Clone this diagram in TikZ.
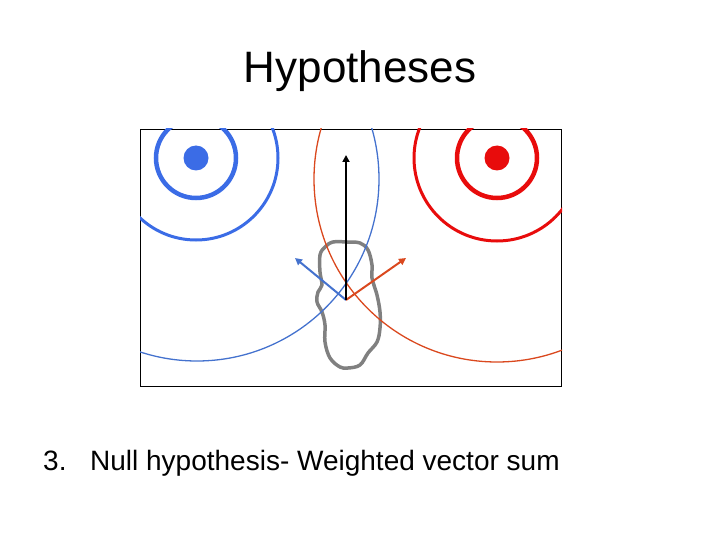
\documentclass[tikz,border=0pt]{standalone}
\usepackage{fontspec}
\setmainfont{Liberation Sans}
\usetikzlibrary{arrows.meta,positioning}
\definecolor{srcblue}{RGB}{59,108,230}
\definecolor{waveblue}{RGB}{68,114,206}
\definecolor{srcred}{RGB}{232,12,12}
\definecolor{wavered}{RGB}{218,72,30}
\definecolor{blobgray}{RGB}{128,128,128}

\begin{document}
\begin{tikzpicture}[x=1pt, y=-1pt,
    label/.style={inner sep=0pt, anchor=base west, font=\fontsize{28}{32}\selectfont},
    dot/.style={circle, fill, inner sep=0pt, minimum size=25pt},
    inring/.style={line width=4.5pt},
    midring/.style={line width=3pt},
    wave/.style={line width=1.3pt},
    vec/.style={-{Triangle[length=7pt, width=7pt]}, line width=2pt}
]
\useasboundingbox (0,0) rectangle (720,540);

\node[inner sep=0pt, anchor=base, font=\fontsize{44}{50}\selectfont] (title) at (360,82.7) {Hypotheses};
\node[label] (num) at (43,470.7) {3.};
\node[label] (caption) at (90,470.7) {Null hypothesis- Weighted vector sum};

\node[draw, line width=1pt, inner sep=0pt, minimum width=421pt, minimum height=257pt,
      anchor=north west] (panel) at (140,129) {};

% sources
\node[dot, srcblue] (bsrc) at (196,158) {};
\node[dot, srcred] (rsrc) at (497,158) {};
\coordinate (bwave) at (197,179);
\coordinate (rwave) at (497,179);

% the cell
\draw[blobgray, line width=3.5pt, line join=round] plot[smooth cycle, tension=0.6] coordinates {
  (325,247) (333,242) (347,242) (360,243) (368,250) (372,265) (372,278) (377,295)
  (380,312) (380,328) (377,342) (368,353) (360,365) (348,368) (340,367) (330,358)
  (325,342) (325,325) (322,312) (317,302) (318,292) (322,285) (320,272) (320,255)};

\begin{scope}
\clip (panel.south west) rectangle (panel.north east);
\draw[srcblue, inring] (bsrc) circle[radius=40];
\draw[srcblue, midring] (bsrc) circle[radius=82];
\draw[waveblue, wave] (bwave) circle[radius=182];
\draw[srcred, inring] (rsrc) circle[radius=40];
\draw[srcred, midring] (rsrc) circle[radius=83];
\draw[wavered, wave] (rwave) circle[radius=183];
\end{scope}

% vectors
\coordinate (origin) at (346,300);
\coordinate (sumtip) at (346,155);
\coordinate (btip) at (295,258);
\coordinate (rtip) at (406,258);
\draw[vec, waveblue] (origin) -- (btip);
\draw[vec, wavered] (origin) -- (rtip);
\draw[vec, black] (origin) -- (sumtip);
\end{tikzpicture}
\end{document}
